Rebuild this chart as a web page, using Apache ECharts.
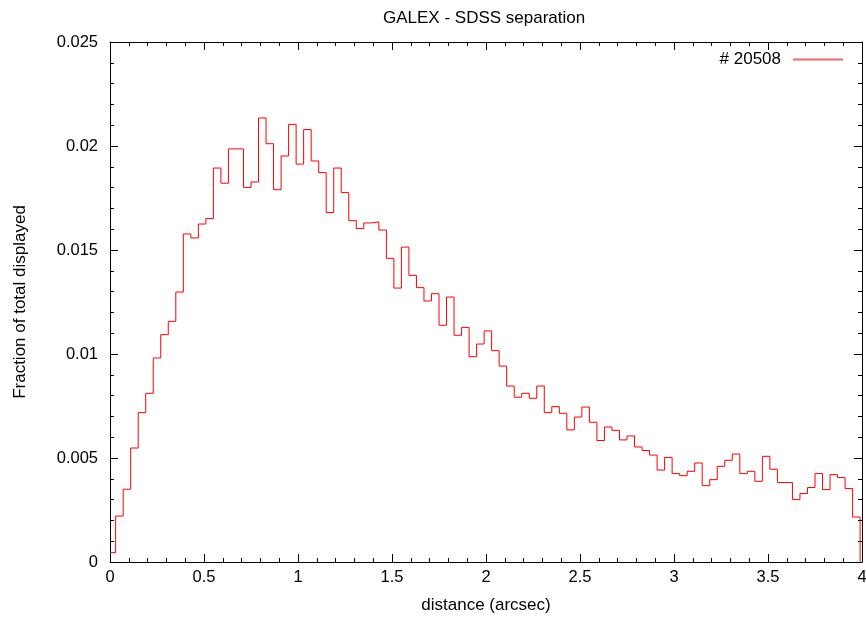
<!DOCTYPE html>
<html>
<head>
<meta charset="utf-8">
<script src="https://cdn.jsdelivr.net/npm/echarts@6/dist/echarts.min.js"></script>
<style>
html,body{margin:0;padding:0;background:#fff;}
#chart{width:866px;height:617px;}
</style>
</head>
<body>
<div id="chart"></div>
<script>
// Histogram of GALEX - SDSS separation (fraction of total per bin)
const seriesName = '# 20508';
const firstBinStart = 0;      // first (partial) bin starts at 0
const firstFullEdge = 0.03;   // left edge of second bin
const binWidth = 0.04;        // arcsec
const lastEdge = 3.99;
const fractions = [
  0.00045, 0.00221, 0.00350, 0.00548, 0.00718, 0.00811, 0.00981, 0.01093, 0.01157, 0.01298,
  0.01577, 0.01558, 0.01625, 0.01651, 0.01894, 0.01821, 0.01986, 0.01986, 0.01801, 0.01827,
  0.02135, 0.02011, 0.01790, 0.01952, 0.02104, 0.01913, 0.02079, 0.01928, 0.01872, 0.01680,
  0.01894, 0.01776, 0.01641, 0.01603, 0.01630, 0.01635, 0.01596, 0.01460, 0.01317, 0.01514,
  0.01378, 0.01319, 0.01255, 0.01290, 0.01138, 0.01274, 0.01090, 0.01128, 0.00987, 0.01048,
  0.01111, 0.01016, 0.00942, 0.00846, 0.00792, 0.00811, 0.00787, 0.00846, 0.00718, 0.00747,
  0.00715, 0.00635, 0.00697, 0.00745, 0.00672, 0.00584, 0.00649, 0.00633, 0.00587, 0.00606,
  0.00553, 0.00536, 0.00514, 0.00442, 0.00503, 0.00425, 0.00415, 0.00436, 0.00476, 0.00367,
  0.00396, 0.00460, 0.00489, 0.00519, 0.00425, 0.00436, 0.00388, 0.00508, 0.00446, 0.00382,
  0.00382, 0.00300, 0.00329, 0.00358, 0.00425, 0.00348, 0.00420, 0.00406, 0.00353, 0.00216
];
const xTicks = [0, 0.5, 1, 1.5, 2, 2.5, 3, 3.5, 4];
const yTicks = [0, 0.005, 0.01, 0.015, 0.02, 0.025];

// build step points: left edge of each bin, then close last bin and drop to zero
const stepData = fractions.map((v, i) => [i === 0 ? firstBinStart : firstFullEdge + binWidth * (i - 1), v]);
stepData.push([lastEdge, fractions[fractions.length - 1]]);
stepData.push([lastEdge, 0]);

const FONT = '"Liberation Sans", Arial, Helvetica, sans-serif';
const black = '#000';

function xAxisCfg(pos, labels) {
  return {
    type: 'value', position: pos, min: xTicks[0], max: xTicks[xTicks.length - 1], interval: 0.5,
    axisLine: { show: true, onZero: false, lineStyle: { color: black, width: 1 } },
    axisTick: { show: true, inside: true, length: 8, lineStyle: { color: black } },
    minorTick: { show: true, splitNumber: 5, length: 4, lineStyle: { color: black } },
    splitLine: { show: false },
    axisLabel: { show: labels, color: black, fontSize: 16.5, fontFamily: FONT, margin: 7,
      hideOverlap: false, formatter: v => String(v) }
  };
}
function yAxisCfg(pos, labels) {
  return {
    type: 'value', position: pos, min: yTicks[0], max: yTicks[yTicks.length - 1], interval: 0.005,
    axisLine: { show: true, onZero: false, lineStyle: { color: black, width: 1 } },
    axisTick: { show: true, inside: true, length: 8, lineStyle: { color: black } },
    minorTick: { show: true, splitNumber: 5, length: 4, lineStyle: { color: black } },
    splitLine: { show: false },
    axisLabel: { show: labels, color: black, fontSize: 16.5, fontFamily: FONT, margin: 12,
      formatter: v => String(v) }
  };
}

const chart = echarts.init(document.getElementById('chart'), null, { renderer: 'canvas' });
const xMain = xAxisCfg('bottom', true);
xMain.name = 'distance (arcsec)';
xMain.nameLocation = 'middle';
xMain.nameGap = 35;
xMain.nameTextStyle = { color: black, fontSize: 17, fontFamily: FONT };
const yMain = yAxisCfg('left', true);
yMain.name = 'Fraction of total displayed';
yMain.nameLocation = 'middle';
yMain.nameGap = 81;
yMain.nameTextStyle = { color: black, fontSize: 17, fontFamily: FONT };

chart.setOption({
  animation: false,
  backgroundColor: '#fff',
  title: {
    text: 'GALEX - SDSS separation',
    left: 378, top: 5,
    textStyle: { color: black, fontSize: 17, fontWeight: 'normal', fontFamily: FONT }
  },
  legend: {
    data: [{ name: seriesName, icon: 'rect', itemStyle: { color: '#f26b6b' } }],
    right: 18, top: 46,
    align: 'right',
    itemWidth: 50, itemHeight: 2,
    textStyle: { color: black, fontSize: 17, fontFamily: FONT, padding: [0, 7, 0, 0] }
  },
  grid: { left: 110, right: 4, top: 42, bottom: 55, containLabel: false, outerBoundsMode: 'none' },
  xAxis: [xMain, xAxisCfg('top', false)],
  yAxis: [yMain, yAxisCfg('right', false)],
  series: [{
    name: seriesName,
    type: 'line',
    xAxisIndex: 0, yAxisIndex: 0,
    step: 'end',
    symbol: 'none',
    showSymbol: false,
    clip: false,
    lineStyle: { color: '#ff0000', width: 1 },
    itemStyle: { color: '#ff0000' },
    data: stepData
  }]
});
</script>
</body>
</html>
